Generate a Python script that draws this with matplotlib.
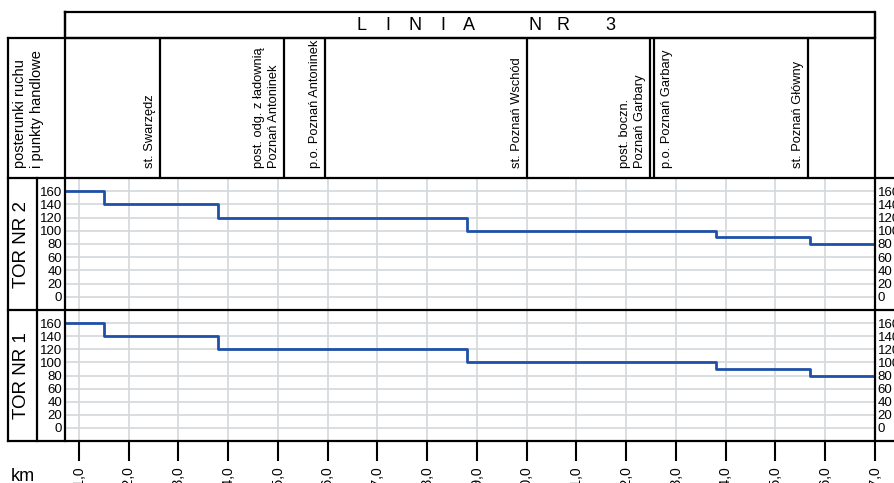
import matplotlib.pyplot as plt

plt.rcParams['font.family'] = ['Liberation Sans', 'DejaVu Sans']

# km scale along the line
km_ticks = [291, 292, 293, 294, 295, 296, 297, 298, 299, 300, 301, 302, 303, 304, 305, 306, 307]
km_labels = ['291,0', '292,0', '293,0', '294,0', '295,0', '296,0', '297,0', '298,0', '299,0',
             '300,0', '301,0', '302,0', '303,0', '304,0', '305,0', '306,0', '307,0']
km_start = 290.72
km_end = 307.0

# speed profile (km/h), section starts in km
section_km = [290.72, 291.5, 293.8, 298.8, 303.8, 305.7]
speed_tor2 = [160, 140, 120, 100, 90, 80]
speed_tor1 = [160, 140, 120, 100, 90, 80]
speed_ticks = [0, 20, 40, 60, 80, 100, 120, 140, 160]

# stations in the header
station_names = ['st. Swarzędz',
                 'post. odg. z ładownią\nPoznań Antoninek',
                 'p.o. Poznań Antoninek',
                 'st. Poznań Wschód',
                 'post. boczn.\nPoznań Garbary',
                 'p.o. Poznań Garbary',
                 'st. Poznań Główny']
station_km = [292.63, 295.12, 295.94, 300.0, 302.48, 302.56, 305.65]
station_side = ['left', 'left', 'left', 'left', 'left', 'right', 'left']

title_chars = ['L', 'I', 'N', 'I', 'A', 'N', 'R', '3']
title_x = [362, 388, 415, 443, 469, 535, 563, 610]

W, H = 894, 483
fig = plt.figure(figsize=(W / 100, H / 100), dpi=100)
fig.patch.set_facecolor('white')

blue = '#1f50a8'
grid_c = '#d4d8db'


def fig_rect(x0, y0, x1, y1):
    return [x0 / W, 1 - y1 / H, (x1 - x0) / W, (y1 - y0) / H]


def speed_panel(rect, speeds, show_km):
    ax = fig.add_axes(rect)
    ax.set_xlim(km_start, km_end)
    ax.set_ylim(-20, 180)
    ax.step(section_km + [km_end], speeds + [speeds[-1]], where='post',
            color=blue, lw=2.0, zorder=3)
    ax.set_yticks(speed_ticks)
    ax.set_xticks(km_ticks)
    ax.grid(True, color=grid_c, lw=1.2)
    ax.tick_params(axis='y', length=0, pad=2, labelsize=9.5,
                   labelleft=True, labelright=True)
    for s in ax.spines.values():
        s.set_visible(False)
    if show_km:
        ax.set_xticklabels(km_labels, rotation=90, fontsize=10)
        ax.tick_params(axis='x', length=14.4, width=1.5, color='black',
                       direction='out', pad=4)
    else:
        ax.tick_params(axis='x', length=0, labelbottom=False)
    return ax


ax2 = speed_panel(fig_rect(65, 178, 875, 310), speed_tor2, False)
ax1 = speed_panel(fig_rect(65, 310, 875, 441), speed_tor1, True)

# header with stations
hx = fig.add_axes(fig_rect(65, 38, 875, 178))
hx.set_xlim(km_start, km_end)
hx.set_ylim(0, 1)
hx.axis('off')
for name, km, side in zip(station_names, station_km, station_side):
    hx.axvline(km, color='black', lw=1.6)
    if side == 'left':
        hx.annotate(name, xy=(km, 0), xytext=(-4, 10), textcoords='offset pixels',
                    rotation=90, ha='right', va='bottom', multialignment='left',
                    fontsize=9.3, linespacing=1.3)
    else:
        hx.annotate(name, xy=(km, 0), xytext=(7, 10), textcoords='offset pixels',
                    rotation=90, ha='left', va='bottom', multialignment='left',
                    fontsize=9.3, linespacing=1.3)

# frame drawn in pixel coordinates
fr = fig.add_axes([0, 0, 1, 1], zorder=10)
fr.set_xlim(0, W)
fr.set_ylim(H, 0)
fr.axis('off')
fr.patch.set_alpha(0)
lw = 1.6
fr.plot([65, 875, 875, 65, 65], [12, 12, 38, 38, 12], color='black', lw=lw)
fr.plot([8, 875], [38, 38], color='black', lw=lw)
for y in [178, 310, 441]:
    fr.plot([8, W], [y, y], color='black', lw=lw)
fr.plot([8, 8], [38, 441], color='black', lw=lw)
fr.plot([65, 65], [12, 441], color='black', lw=lw)
fr.plot([875, 875], [12, 441], color='black', lw=lw)
fr.plot([37, 37], [178, 441], color='black', lw=lw)

for ch, x in zip(title_chars, title_x):
    fr.text(x, 26, ch, ha='center', va='center', fontsize=13)

fr.text(13, 168, 'posterunki ruchu\ni punkty handlowe', rotation=90,
        ha='left', va='bottom', multialignment='left', fontsize=10.5, linespacing=1.3)
fr.text(22, 244, 'TOR NR 2', rotation=90, ha='center', va='center', fontsize=13.5)
fr.text(22, 376, 'TOR NR 1', rotation=90, ha='center', va='center', fontsize=13.5)
fr.text(11, 481, 'km', ha='left', va='baseline', fontsize=13)

fig.savefig('out.png', dpi=100, facecolor='white')
